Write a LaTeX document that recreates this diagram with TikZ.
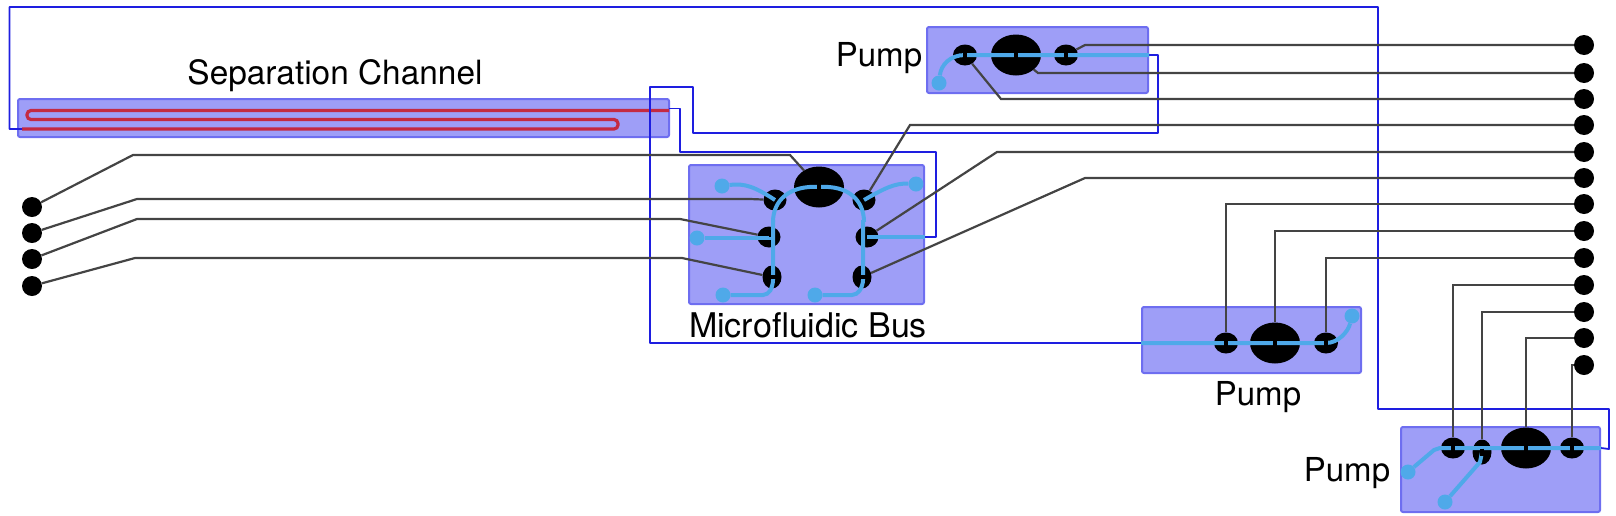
\documentclass[tikz,border=0pt]{standalone}
\usepackage{fontspec}
\setmainfont{TeX Gyre Heros}
\usetikzlibrary{calc,shapes.geometric}
\definecolor{ChipFill}{HTML}{9E9EF7}
\definecolor{ChipEdge}{HTML}{6E6EF0}
\definecolor{FlowBlue}{HTML}{1E1EE0}
\definecolor{PortCyan}{HTML}{4FA9E9}
\definecolor{ChanRed}{HTML}{C42A42}
\definecolor{CtrlGrey}{HTML}{444444}

\begin{document}
\begin{tikzpicture}[x=1pt,y=-1pt,
    chip/.style={rounded corners=2pt,draw=ChipEdge,line width=2pt,fill=ChipFill,inner sep=0pt},
    term/.style={circle,fill=black,inner sep=0pt,minimum size=20pt},
    valve/.style={ellipse,fill=black,inner sep=0pt,minimum width=24pt,minimum height=21pt},
    bigvalve/.style={valve,minimum width=50pt,minimum height=41pt},
    port/.style={circle,fill=PortCyan,inner sep=0pt,minimum size=15pt},
    ctrl/.style={CtrlGrey,line width=2.2pt},
    flow/.style={FlowBlue,line width=1.8pt},
    liquid/.style={PortCyan,line width=4pt},
    chan/.style={ChanRed,line width=3.2pt,rounded corners=4pt},
    tag/.style={font=\fontsize{33pt}{35pt}\selectfont,inner sep=0pt},
    bigtag/.style={font=\fontsize{34pt}{36pt}\selectfont,inner sep=0pt}]
    \useasboundingbox (0,0) rectangle (1616,515);
    % chips
    \node[chip,minimum width=651pt,minimum height=38pt] (sep) at (343.5,118) {};
    \node[chip,minimum width=235pt,minimum height=139pt] (bus) at (806.5,234.5) {};
    \node[chip,minimum width=221pt,minimum height=66pt] (pumpT) at (1037.5,60) {};
    \node[chip,minimum width=219pt,minimum height=66pt] (pumpB) at (1251.5,340) {};
    \node[chip,minimum width=199pt,minimum height=85pt] (pumpC) at (1500.5,469.5) {};
    \node[tag,font=\fontsize{33.4pt}{35pt}\selectfont] (sepTag) at (335,76) {Separation Channel};
    \node[bigtag] (busTag) at (808,325) {Microfluidic Bus};
    \node[tag] (topTag) at (879,58) {Pump};
    \node[tag] (midTag) at (1258,397) {Pump};
    \node[tag] (lowTag) at (1347,473) {Pump};
    % pads
    \foreach \n/\y in {1/207,2/233,3/259,4/286}
      \node[term] (l\n) at (32,\y) {};
    \foreach \n/\y in {1/45,2/73,3/99,4/125,5/152,6/178,7/204,8/231,9/258,10/285,11/312,12/338,13/365}
      \node[term] (r\n) at (1584,\y) {};
    % valves
    \node[bigvalve] (busM) at (819,187) {};
    \node[valve,minimum width=23pt] (busA) at (775,200) {};
    \node[valve,minimum width=23pt] (busB) at (769,237) {};
    \node[valve,minimum width=19pt,minimum height=23pt] (busC) at (772,277) {};
    \node[valve,minimum width=23pt] (busD) at (864,200) {};
    \node[valve,minimum width=23pt] (busE) at (867,237) {};
    \node[valve,minimum width=19pt,minimum height=23pt] (busF) at (862,277) {};
    \node[valve] (topA) at (965,55) {};
    \node[bigvalve] (topM) at (1016,55) {};
    \node[valve] (topB) at (1066,55) {};
    \node[valve] (midA) at (1226,343) {};
    \node[bigvalve] (midM) at (1275,343) {};
    \node[valve] (midB) at (1326,343) {};
    \node[valve] (lowA) at (1453,448) {};
    \node[valve,minimum width=19pt,minimum height=25pt] (lowB) at (1482,452) {};
    \node[bigvalve] (lowM) at (1526,448) {};
    \node[valve] (lowD) at (1572,448) {};
    % serpentine
    \coordinate (chanIn) at (22,129);
    \coordinate (chanOut) at (669,110.5);
    \draw[chan] (chanIn) -- (618,129) -- (618,119.5) -- (27,119.5) -- (27,110.5) -- (chanOut);
    % off-chip tubing
    \draw[flow,line join=round] (chanIn) -- (9.5,129) -- (9.5,7) -- (1378,7) -- (1378,409) -- (1609,409) -- (1609,449) -- (pumpC.east |- lowD);
    \draw[flow,line join=round] (chanOut) ++(0,-2) -| (680,152) -| (936,237) -- (bus.east |- busE);
    \draw[flow,line join=round] (pumpB.west |- midA) -| (650,87) -| (693,133) -| (1158,55) -- (pumpT.east |- topB);
    % control lines
    \draw[ctrl] (l1) -- (133,155) -- (790,155) -- (busM);
    \draw[ctrl] (l2) -- (137,199) -- (750,199) -- (busA);
    \draw[ctrl] (l3) -- (137,219) -- (680,219) -- (busB);
    \draw[ctrl] (l4) -- (135,258) -- (682,258) -- (busC);
    \draw[ctrl] (r1) -- (1085,45) -- (topB);
    \draw[ctrl] (r2) -- (1038,73) -- (topM);
    \draw[ctrl] (r3) -- (1001,99) -- (topA);
    \draw[ctrl] (r4) -- (910,125) -- (busD);
    \draw[ctrl] (r5) -- (997,152) -- (busE);
    \draw[ctrl] (r6) -- (1085,178) -- (busF);
    \draw[ctrl] (r7) -| (midA);
    \draw[ctrl] (r8) -| (midM);
    \draw[ctrl] (r9) -| (midB);
    \draw[ctrl] (r10) -| (lowA);
    \draw[ctrl] (r11) -| (lowB);
    \draw[ctrl] (r12) -| (lowM);
    \draw[ctrl] (r13) -| (lowD);
    % ports
    \node[port] (ptA) at (939,83) {};
    \node[port] (pbA) at (1352,316) {};
    \node[port] (pcA) at (1408,472) {};
    \node[port] (pcB) at (1445,502) {};
    \node[port] (paA) at (723,295) {};
    \node[port] (paB) at (815,295) {};
    \node[port] (paC) at (722,186) {};
    \node[port] (paD) at (916,184) {};
    \node[port] (paE) at (697,238) {};
    % liquid channels
    \draw[liquid] (ptA) .. controls (941,65) and (950,55) .. (topA.center) -- (pumpT.east |- topB);
    \draw[liquid] (pumpB.west |- midA) -- (midB.center) .. controls (1338,343) and (1348,332) .. (pbA);
    \draw[liquid] (pcA) -- (1434,450) -- (1440,448) -- (pumpC.east |- lowD);
    \draw[liquid] (pcB) -- (1480,462) -- (lowB.center);
    \draw[liquid,rounded corners=5pt] (paA) -- (768,295) -- (773,285) -- (773,220);
    \draw[liquid] (773,222) .. controls (773,200) and (790,185) .. (busM.center) .. controls (848,185) and (864,200) .. (864,222);
    \draw[liquid,rounded corners=5pt] (paB) -- (857,295) -- (863,285) -- (863,220);
    \draw[liquid] (paC) .. controls (745,183) and (755,187) .. (busA.center);
    \draw[liquid] (paD) .. controls (895,183) and (885,188) .. (busD.center);
    \draw[liquid] (paE) -- (busB |- paE) -- (busB.center);
    \draw[liquid] (busE.center) -- (bus.east |- busE);
    % breaks in the channels over the valves
    \foreach \v in {topA,topM,topB,midA,midM,midB,lowA,lowB,lowM,lowD,busM}
      \draw[black,line width=4pt] ($(\v.center)+(0,-3.5)$) -- ($(\v.center)+(0,3.5)$);
    \foreach \v in {busC,busF}
      \draw[black,line width=4pt] ($(\v.center)+(-3,0)$) -- ($(\v.center)+(4.5,0)$);
  \end{tikzpicture}
\end{document}
